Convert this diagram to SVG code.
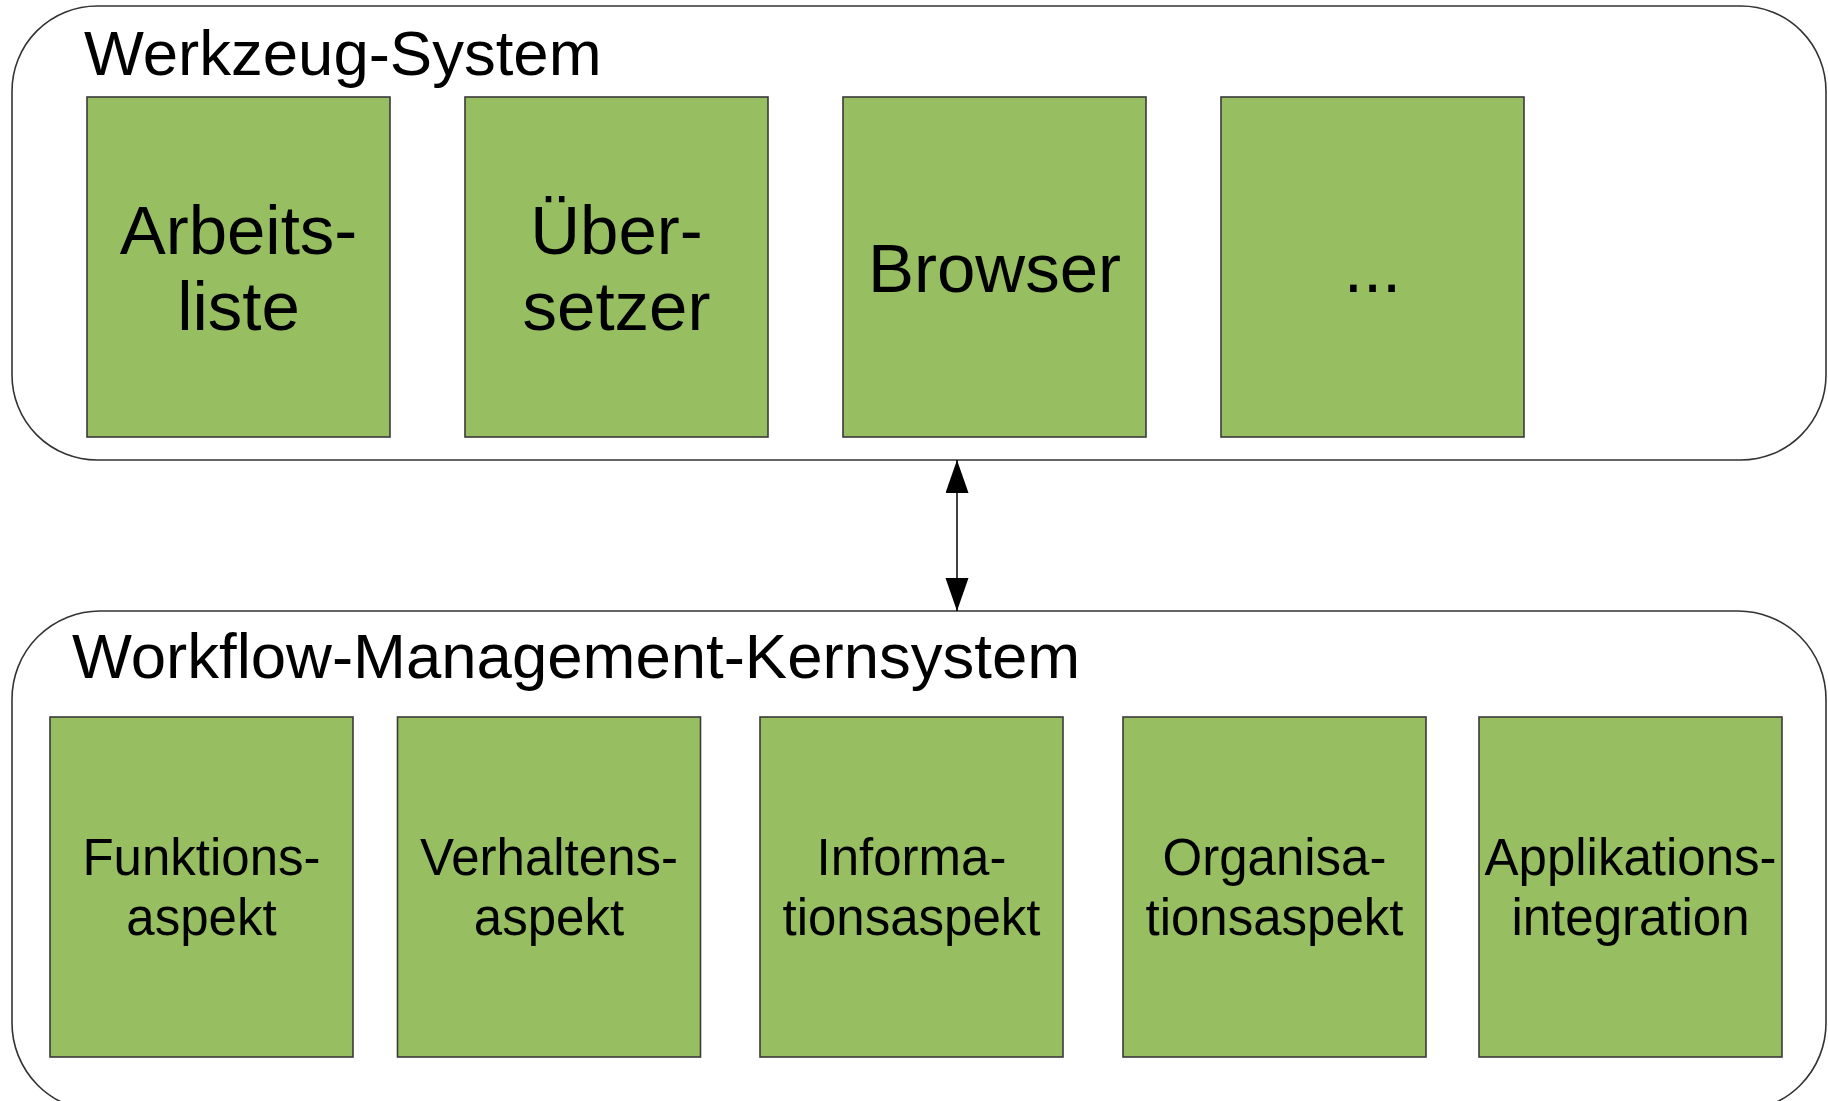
<svg xmlns="http://www.w3.org/2000/svg" width="1828" height="1101" viewBox="0 0 1828 1101">
<style>
.container{fill:#ffffff;stroke:#333333;stroke-width:1.6}
.box{fill:#97BE60;stroke:#3a3a3a;stroke-width:1.6}
.title{font-family:"Liberation Sans",Arial,sans-serif;font-size:63.5px;fill:#000}
.big{font-family:"Liberation Sans",Arial,sans-serif;font-size:69px;fill:#000;text-anchor:middle}
.small{font-family:"Liberation Sans",Arial,sans-serif;font-size:51px;fill:#000;text-anchor:middle}
.conn{stroke:#000;stroke-width:1.5;fill:none}
</style>
<defs>
<marker id="arrow" markerUnits="userSpaceOnUse" markerWidth="34" markerHeight="24" refX="33" refY="11.5" orient="auto-start-reverse">
<path d="M0,0 L33,11.5 L0,23 z" fill="#000"/>
</marker>
</defs>
<rect width="1828" height="1101" fill="#ffffff"/>
<g id="werkzeug-system">
<rect class="container" x="12" y="6" width="1814" height="454" rx="85" ry="85"/>
<text class="title" x="84" y="75">Werkzeug-System</text>
</g>
<g id="kernsystem">
<rect class="container" x="12" y="611" width="1814" height="500" rx="88" ry="88"/>
<text class="title" x="72" y="678">Workflow-Management-Kernsystem</text>
</g>
<g id="arbeitsliste">
<rect class="box" x="87" y="97" width="303" height="340"/>
<text class="big" x="238.5" y="254">Arbeits-</text>
<text class="big" x="238.5" y="330">liste</text>
</g>
<g id="uebersetzer">
<rect class="box" x="465" y="97" width="303" height="340"/>
<text class="big" x="616.5" y="254">Über-</text>
<text class="big" x="616.5" y="330">setzer</text>
</g>
<g id="browser">
<rect class="box" x="843" y="97" width="303" height="340"/>
<text class="big" x="994.5" y="292">Browser</text>
</g>
<g id="weitere">
<rect class="box" x="1221" y="97" width="303" height="340"/>
<text class="big" x="1372.5" y="292">...</text>
</g>
<g id="funktionsaspekt">
<rect class="box" x="50" y="717" width="303" height="340"/>
<text class="small" x="201.5" y="875">Funktions-</text>
<text class="small" x="201.5" y="935">aspekt</text>
</g>
<g id="verhaltensaspekt">
<rect class="box" x="397.5" y="717" width="303" height="340"/>
<text class="small" x="549" y="875">Verhaltens-</text>
<text class="small" x="549" y="935">aspekt</text>
</g>
<g id="informationsaspekt">
<rect class="box" x="760" y="717" width="303" height="340"/>
<text class="small" x="911.5" y="875">Informa-</text>
<text class="small" x="911.5" y="935">tionsaspekt</text>
</g>
<g id="organisationsaspekt">
<rect class="box" x="1123" y="717" width="303" height="340"/>
<text class="small" x="1274.5" y="875">Organisa-</text>
<text class="small" x="1274.5" y="935">tionsaspekt</text>
</g>
<g id="applikationsintegration">
<rect class="box" x="1479" y="717" width="303" height="340"/>
<text class="small" x="1630.5" y="875">Applikations-</text>
<text class="small" x="1630.5" y="935">integration</text>
</g>
<g id="connectors">
<line class="conn" x1="957" y1="460" x2="957" y2="611" marker-start="url(#arrow)" marker-end="url(#arrow)"/>
</g>
</svg>
